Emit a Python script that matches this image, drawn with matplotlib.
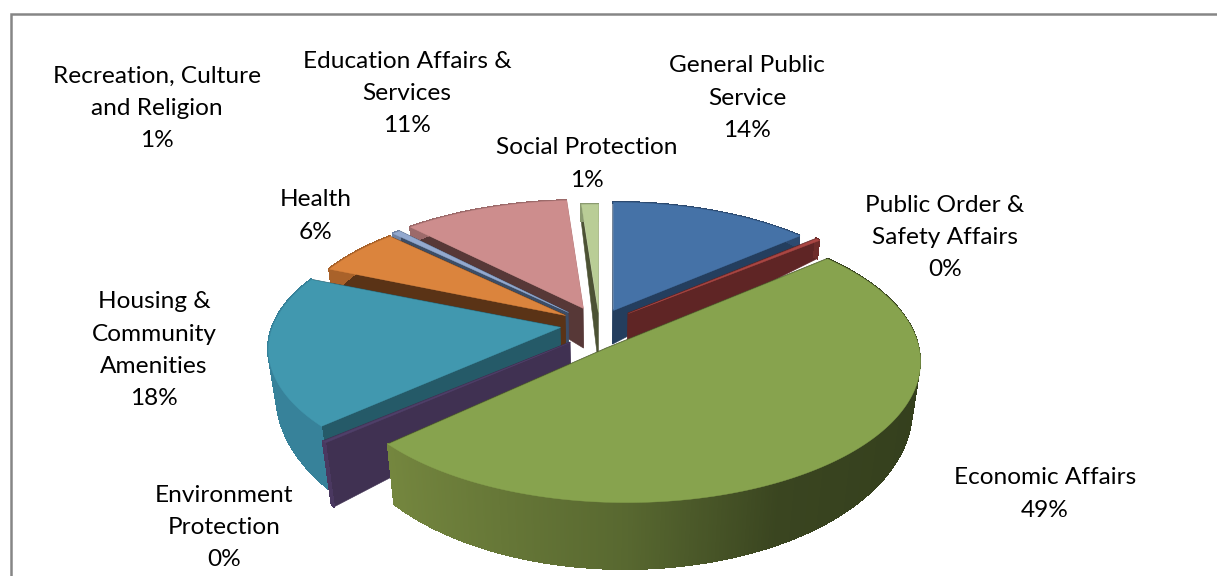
import numpy as np
import matplotlib
matplotlib.use('Agg')
import matplotlib.pyplot as plt
from matplotlib.collections import PolyCollection
from matplotlib.colors import to_rgb

# share of spending per sector, clockwise from 12 o'clock
sectors = ['General Public\nService', 'Public Order &\nSafety Affairs', 'Economic Affairs',
           'Environment\nProtection', 'Housing &\nCommunity\nAmenities', 'Health',
           'Recreation, Culture\nand Religion', 'Education Affairs &\nServices', 'Social Protection']
shares = [13.6, 0.3, 49.1, 0.2, 18.2, 5.9, 0.55, 11.05, 1.1]

top_colors = ['#4572a7', '#aa4643', '#87a34e', '#4f3f69', '#4198af', '#db843d', '#93a9cf', '#cd8d8d', '#b9cd96']
side_colors = ['#243e5e', '#5f2525', '#4b5a2a', '#403152', '#255a68', '#5a3316', '#3c4d66', '#573837', '#4c5234']
rim_colors = ['#2c4a70', '#6e2c2a', '#5a6a30', '#4a3860', '#37829a', '#a9622a', '#6f82a3', '#9c6a6a', '#8a9a70']

# exploded position of each wedge tip, and the ellipse its rim sits on
tips = [(613, 310), (628, 313), (606, 348), (570, 342), (560, 327), (565, 315), (568, 312), (583, 308), (598, 312)]
centers = [(613, 310), (628, 313), (626, 338), (570, 342), (560, 327), (565, 315), (568, 312), (583, 308), (598, 312)]
radii = [(274, 126), (276, 126), (290, 137), (298, 130), (288, 130), (273, 126), (273, 126), (280, 126), (286, 126)]
depths = [34, 40, 46, 42, 42, 38, 38, 40, 50]
depth_slope = [33, 33, 21, 33, 33, 33, 33, 33, 33]

label_pos = [(747, 66), (945, 205), (1045, 478), (224, 495), (154, 302), (316, 200), (157, 76), (407, 61), (587, 148)]
PERSP = 0.165
VANISH_X = 600
LINE_H = 32.3

# back to front, so nearer wedges paint over the others
draw_order = [0, 1, 8, 7, 6, 5, 4, 3, 2]

fig = plt.figure(figsize=(12.17, 5.76), dpi=100)
ax = fig.add_axes([0, 0, 1, 1])
ax.set_xlim(0, 1217)
ax.set_ylim(576, 0)
ax.axis('off')

plt.rcParams['font.family'] = ['Lato', 'DejaVu Sans']

# chart frame, only top and left edges are in view
ax.plot([10.5, 10.5, 1217], [576, 14, 14], color='#868686', lw=1.8, solid_joinstyle='miter')

edges = np.cumsum([0] + shares) / sum(shares) * 2 * np.pi


def top_point(i, theta):
    u, v = np.sin(theta), -np.cos(theta)
    k = 1 / (1 - PERSP * v)
    return centers[i][0] + radii[i][0] * u * k, centers[i][1] + radii[i][1] * v * k, v


def drop(i, x, y, v):
    # same point on the underside of the wedge
    d = depths[i] + depth_slope[i] * v
    return VANISH_X + (x - VANISH_X) * (1 - d * 0.0005), y + d


def rim_shade(i, u):
    base = np.array(to_rgb(rim_colors[i]))
    if i == 2:
        # the big slice gets a left to right falloff along its rim
        stops = [np.array(to_rgb(c)) for c in ('#75873f', '#586830', '#3a4520', '#343f1d')]
        return tuple(np.array([np.interp(u, [-0.75, 0.0, 0.45, 1.0], [s[j] for s in stops]) for j in range(3)]))
    return tuple(base)


for i in draw_order:
    a0, a1 = edges[i], edges[i + 1]
    thetas = np.linspace(a0, a1, max(int((a1 - a0) * 160), 6))
    ax_, ay_ = tips[i]
    tip_bottom = drop(i, ax_, ay_, 0)
    z = 10 + draw_order.index(i)

    polys, cols = [], []
    # the two cut faces
    for a in (a0, a1):
        x, y, v = top_point(i, a)
        bx, by = drop(i, x, y, v)
        polys.append([(ax_, ay_), (x, y), (bx, by), tip_bottom])
        cols.append(side_colors[i])
    ax.add_collection(PolyCollection(polys, facecolors=cols, edgecolors=cols, linewidths=0.4, zorder=z))

    # outer rim, short quads so the shade can change along it
    polys, cols = [], []
    for t0, t1 in zip(thetas[:-1], thetas[1:]):
        x0, y0, v0 = top_point(i, t0)
        x1, y1, v1 = top_point(i, t1)
        polys.append([(x0, y0), (x1, y1), drop(i, x1, y1, v1), drop(i, x0, y0, v0)])
        cols.append(rim_shade(i, np.sin((t0 + t1) / 2)))
    ax.add_collection(PolyCollection(polys, facecolors=cols, edgecolors=cols, linewidths=0.6, antialiaseds=False, zorder=z))

    # top surface
    rim = [top_point(i, t)[:2] for t in thetas]
    ax.add_collection(PolyCollection([[(ax_, ay_)] + rim], facecolors=top_colors[i], edgecolors=top_colors[i],
                                     linewidths=0.3, zorder=z))

for name, share, (x, y) in zip(sectors, shares, label_pos):
    text = f'{name}\n{round(share)}%'
    for n, line in enumerate(text.split('\n')):
        ax.text(x, y + n * LINE_H, line, ha='center', va='center', fontsize=17.6, color='black', zorder=40)

fig.savefig('out.png', dpi=100, facecolor='white')
